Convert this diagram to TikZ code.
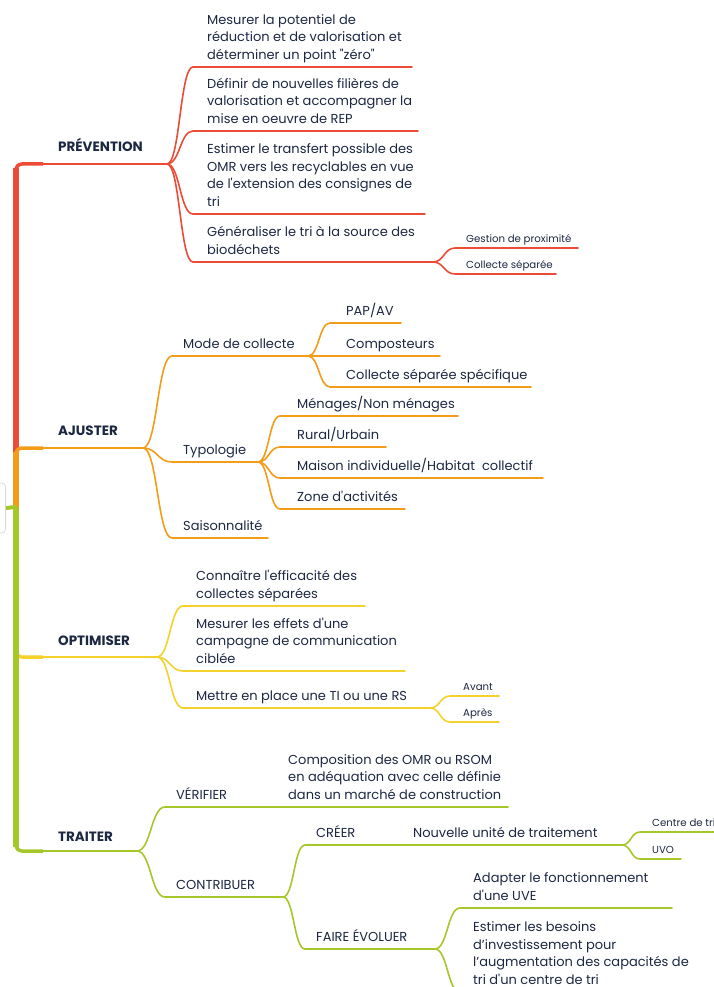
\documentclass[tikz,border=0pt]{standalone}
\usepackage{fontspec}
\newfontfamily\mainf{Poppins}
\usetikzlibrary{calc}
\definecolor{cred}{HTML}{EC4B36}
\definecolor{corange}{HTML}{F39C1A}
\definecolor{cyellow}{HTML}{F5D22B}
\definecolor{cgreen}{HTML}{A6C72A}
\definecolor{ctext}{HTML}{1C2742}
\definecolor{cgrey}{HTML}{DADADA}
\tikzset{
  txt/.style={anchor=south west, inner sep=0pt, align=left, text=ctext,
    font=\mainf\fontsize{13}{17.5}\selectfont, yshift=2.2pt},
  sm/.style={anchor=south west, inner sep=0pt, align=left, text=ctext,
    font=\mainf\fontsize{10.2}{12}\selectfont, yshift=2pt},
  lab/.style={anchor=base west, inner sep=0pt, text=ctext,
    font=\mainf\bfseries\fontsize{13.5}{15}\selectfont},
  br/.style={line width=1.6pt, line cap=round},
}
\newcommand\topic[7][txt]{%
  \coordinate (#2s) at (#3,#4);
  \coordinate (#2e) at (#5,#4);
  \node[#1] (#2) at (#6,#4) {#7\strut};}
\newcommand\link[2]{\draw[br] let \p1=(#1e), \p2=(#2s) in (\p1) .. controls ({0.5*\x1+0.5*\x2},\y1) and ({0.5*\x1+0.5*\x2},\y2) .. (\p2) -- (#2e);}
\newcommand\mainbranch[2]{%
  \draw[#1, line width=3.5pt, rounded corners=6pt] (root) |- ($(root|-#2)+(27,0)$);
  \draw[#1, line width=2.2pt] ($(root|-#2)+(20,0)$) -- (#2);
  \draw[#1, line width=5.5pt, shorten >=4pt] (root) -- (root|-#2);}
\begin{document}
\begin{tikzpicture}[x=1pt,y=-1pt]
\useasboundingbox (0,0) rectangle (714,987);
\clip (0,0) rectangle (714,987);

% root
\node[draw=cgrey, line width=0.8pt, fill=white, rounded corners=4pt, minimum width=50pt, minimum height=50pt, anchor=east] (rootbox) at (6,508) {};
\coordinate (root) at (16,507);
\coordinate (PREVe) at (167,164);
\coordinate (AJUe) at (143,448);
\coordinate (OPTe) at (157,657);
\coordinate (TRAe) at (137,851);

\mainbranch{cyellow}{OPTe}
\mainbranch{cred}{PREVe}
\mainbranch{corange}{AJUe}
\mainbranch{cgreen}{TRAe}
\draw[cgreen, line width=4pt] (rootbox.east) -- (root);

\node[lab] (PREV) at (58,152) {PRÉVENTION};
\node[lab] (AJU) at (58,435) {AJUSTER};
\node[lab] (OPT) at (58,645) {OPTIMISER};
\node[lab] (TRA) at (58,841) {TRAITER};

% PREVENTION
\topic{p1}{193}{67}{412}{207}{Mesurer la potentiel de\\réduction et de valorisation et\\déterminer un point "zéro"}
\topic{p2}{193}{131}{418}{207}{Définir de nouvelles filières de\\valorisation et accompagner la\\mise en oeuvre de REP}
\topic{p3}{193}{214}{425}{207}{Estimer le transfert possible des\\OMR vers les recyclables en vue\\de l'extension des consignes de\\tri}
\topic{p4}{193}{262}{433}{207}{Généraliser le tri à la source des\\biodéchets}
\topic[sm]{p4a}{455}{248}{578}{466}{Gestion de proximité}
\topic[sm]{p4b}{455}{274}{556}{466}{Collecte séparée}
\begin{scope}[cred]
\link{PREV}{p1}\link{PREV}{p2}\link{PREV}{p3}\link{PREV}{p4}
\link{p4}{p4a}\link{p4}{p4b}
\end{scope}

% AJUSTER
\topic{a1}{172}{356}{308}{183}{Mode de collecte}
\topic{a1a}{330}{323}{401}{346}{PAP/AV}
\topic{a1b}{330}{356}{440}{346}{Composteurs}
\topic{a1c}{330}{387}{531}{346}{Collecte séparée spécifique}
\topic{a2}{172}{462}{258}{183}{Typologie}
\topic{a2a}{280}{416}{458}{297}{Ménages/Non ménages}
\topic{a2b}{280}{447}{386}{297}{Rural/Urbain}
\topic{a2c}{280}{478}{543}{297}{Maison individuelle/Habitat~ collectif}
\topic{a2d}{280}{509}{405}{297}{Zone d'activités}
\topic{a3}{172}{538}{268}{183}{Saisonnalité}
\begin{scope}[corange]
\link{AJU}{a1}\link{AJU}{a2}\link{AJU}{a3}
\link{a1}{a1a}\link{a1}{a1b}\link{a1}{a1c}
\link{a2}{a2a}\link{a2}{a2b}\link{a2}{a2c}\link{a2}{a2d}
\end{scope}

% OPTIMISER
\topic{o1}{183}{606}{365}{196}{Connaître l'efficacité des\\collectes séparées}
\topic{o2}{183}{671}{405}{196}{Mesurer les effets d'une\\campagne de communication\\ciblée}
\topic{o3}{183}{708}{430}{196}{Mettre en place une TI ou une RS}
\topic[sm]{o3a}{450}{696}{499}{463}{Avant}
\topic[sm]{o3b}{450}{722}{499}{463}{Après}
\begin{scope}[cyellow]
\link{OPT}{o1}\link{OPT}{o2}\link{OPT}{o3}
\link{o3}{o3a}\link{o3}{o3b}
\end{scope}

% TRAITER
\topic{t1}{165}{807}{280}{176}{VÉRIFIER}
\topic{t1a}{280}{807}{508}{288}{Composition des OMR ou RSOM\\en adéquation avec celle définie\\dans un marché de construction}
\topic{t2}{165}{897}{283}{176}{CONTRIBUER}
\topic{t2a}{305}{845}{405}{316}{CRÉER}
\topic{t2a1}{405}{845}{622}{413}{Nouvelle unité de traitement}
\topic[sm]{t2a1a}{640}{832}{730}{652}{Centre de tri}
\topic[sm]{t2a1b}{640}{859}{681}{652}{UVO}
\topic{t2b}{305}{949}{435}{316}{FAIRE ÉVOLUER}
\topic{t2b1}{460}{908}{672}{473}{Adapter le fonctionnement\\d'une UVE}
\topic{t2b2}{460}{992}{700}{473}{Estimer les besoins\\d’investissement pour\\l’augmentation des capacités de\\tri d'un centre de tri}
\begin{scope}[cgreen]
\link{TRA}{t1}\link{TRA}{t2}
\link{t1}{t1a}
\link{t2}{t2a}\link{t2}{t2b}
\link{t2a}{t2a1}
\link{t2a1}{t2a1a}\link{t2a1}{t2a1b}
\link{t2b}{t2b1}\link{t2b}{t2b2}
\end{scope}
\end{tikzpicture}
\end{document}
